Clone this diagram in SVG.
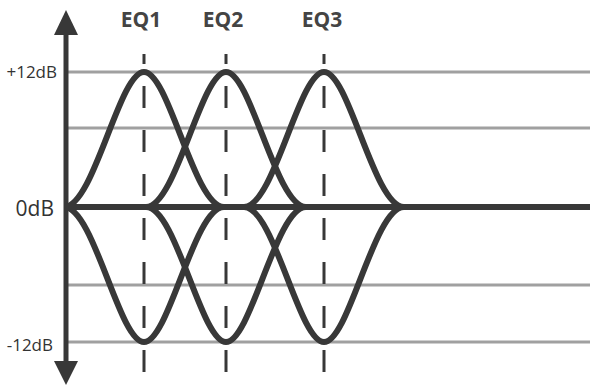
<svg xmlns="http://www.w3.org/2000/svg" width="590" height="385" viewBox="0 0 590 385">
  <style>
    .grid { stroke: #a0a0a0; stroke-width: 3; fill: none; }
    .dash { stroke: #383838; stroke-width: 3; stroke-dasharray: 22 22; stroke-dashoffset: 12; fill: none; }
    .curve { stroke: #383838; stroke-width: 6; fill: none; stroke-linejoin: round; }
    .axis { stroke: #383838; stroke-width: 5; fill: none; }
    .lbl { font-family: "Open Sans", "Liberation Sans", sans-serif; fill: #333333; }
    .eq { font-family: "Open Sans", "Liberation Sans", sans-serif; font-weight: bold; fill: #444444; font-size: 21px; text-anchor: middle; }
  </style>
  <g id="grid">
    <line class="grid" x1="68" y1="72" x2="590" y2="72"/>
    <line class="grid" x1="68" y1="128" x2="590" y2="128"/>
    <line class="grid" x1="68" y1="285" x2="590" y2="285"/>
    <line class="grid" x1="68" y1="342" x2="590" y2="342"/>
  </g>
  <g id="markers">
    <line class="dash" x1="144" y1="54" x2="144" y2="372"/>
    <line class="dash" x1="226" y1="54" x2="226" y2="372"/>
    <line class="dash" x1="324" y1="54" x2="324" y2="372"/>
  </g>
  <g id="eq1">
    <path class="curve" d="M64,207 C94,207 119,72 144,72 C169,72 194,207 224,207"/>
    <path class="curve" d="M64,207 C94,207 119,342 144,342 C169,342 194,207 224,207"/>
    <text class="eq" x="141" y="26.5">EQ1</text>
  </g>
  <g id="eq2">
    <path class="curve" d="M146,207 C176,207 201,72 226,72 C251,72 276,207 306,207"/>
    <path class="curve" d="M146,207 C176,207 201,342 226,342 C251,342 276,207 306,207"/>
    <text class="eq" x="223" y="26.5">EQ2</text>
  </g>
  <g id="eq3">
    <path class="curve" d="M244,207 C274,207 299,72 324,72 C349,72 374,207 404,207"/>
    <path class="curve" d="M244,207 C274,207 299,342 324,342 C349,342 374,207 404,207"/>
    <text class="eq" x="322" y="26.5">EQ3</text>
  </g>
  <g id="axes">
    <line x1="66" y1="207" x2="590" y2="207" stroke="#383838" stroke-width="6"/>
    <line class="axis" x1="66" y1="30" x2="66" y2="365"/>
    <polygon points="66,10 78,35 54,35" fill="#383838"/>
    <polygon points="66,385 78,361 54,361" fill="#383838"/>
  </g>
  <g id="labels">
    <text class="lbl" x="57" y="78" font-size="17" text-anchor="end">+12dB</text>
    <text class="lbl" x="54" y="216" font-size="21" text-anchor="end">0dB</text>
    <text class="lbl" x="53" y="351" font-size="17" text-anchor="end">-12dB</text>
  </g>
</svg>
